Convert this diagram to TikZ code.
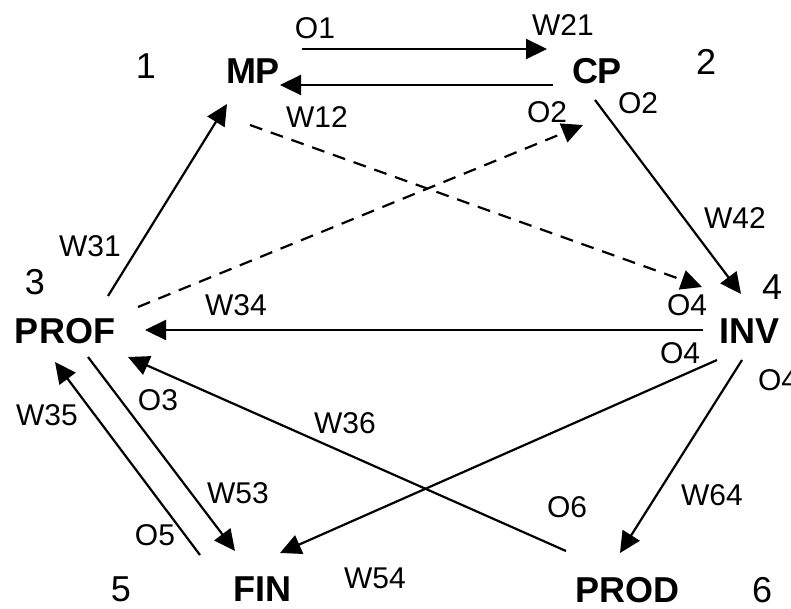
\documentclass[tikz,border=0pt]{standalone}
\usepackage{fontspec}
\setmainfont{Liberation Sans}
\usetikzlibrary{arrows.meta}
\begin{document}
\begin{tikzpicture}[x=1pt,y=-1pt,
  conn/.style={line width=2.2pt,-{Triangle[length=21pt,width=20pt]}},
  plainline/.style={line width=2.2pt},
  dsh/.style={conn,dash pattern=on 13pt off 9pt},
  lbl/.style={font=\fontsize{30}{30}\selectfont,inner sep=0pt},
  box/.style={font=\fontsize{36}{36}\selectfont\bfseries,inner sep=0pt},
  num/.style={font=\fontsize{36}{36}\selectfont,inner sep=0pt}]
\useasboundingbox (0,0) rectangle (791,608);
\clip (0,0) rectangle (791,608);
% main nodes
\node[box] (MP) at (253,71) {MP};
\node[box] (CP) at (597,71) {CP};
\node[box] (PROF) at (65,331) {PROF};
\node[box] (INV) at (749,331) {INV};
\node[box] (FIN) at (262,589) {FIN};
\node[box] (PROD) at (627,590) {PROD};
% numbers
\node[num] (n1) at (146,66) {1};
\node[num] (n2) at (706,62) {2};
\node[num] (n3) at (35,282) {3};
\node[num] (n4) at (772,287) {4};
\node[num] (n5) at (121,589) {5};
\node[num] (n6) at (762,590) {6};
% connector end points
\coordinate (a1) at (302,49);  \coordinate (a2) at (547,49);
\coordinate (b1) at (553,85);  \coordinate (b2) at (280,85);
\coordinate (c1) at (595,100); \coordinate (c2) at (741,294);
\coordinate (d1) at (250,125); \coordinate (d2) at (702,287);
\coordinate (e1) at (138,307); \coordinate (e2) at (583,125);
\coordinate (f1) at (108,296); \coordinate (f2) at (227,104);
\coordinate (g1) at (703,330); \coordinate (g2) at (145,330);
\coordinate (h1) at (717,360); \coordinate (h2) at (280,553);
\coordinate (i1) at (742,360); \coordinate (i2) at (620,553);
\coordinate (j1) at (566,551); \coordinate (j2) at (128,357);
\coordinate (k1) at (88,357);  \coordinate (k2) at (235,551);
\coordinate (l1) at (200,555); \coordinate (l2) at (55,362);
% connectors
\draw[conn] (a1) -- (a2);
\draw[conn] (b1) -- (b2);
\draw[conn] (c1) -- (c2);
\draw[dsh] (d1) -- (d2);
\draw[dsh] (e1) -- (e2);
\draw[conn] (f1) -- (f2);
\draw[conn] (g1) -- (g2);
\draw[conn] (h1) -- (h2);
\draw[conn] (i1) -- (i2);
\draw[conn] (j1) -- (j2);
\draw[conn] (k1) -- (k2);
\draw[conn] (l1) -- (l2);
% labels
\node[lbl] (tO1) at (315,28) {O1};
\node[lbl] (tW21) at (563,25) {W21};
\node[lbl] (tW12) at (317,117) {W12};
\node[lbl] (tO2a) at (547,112) {O2};
\node[lbl] (tO2b) at (638,103) {O2};
\node[lbl] (tW42) at (735,218) {W42};
\node[lbl] (tW31) at (90,246) {W31};
\node[lbl] (tW34) at (236,305) {W34};
\node[lbl] (tO4a) at (687,305) {O4};
\node[lbl] (tO4b) at (680,353) {O4};
\node[lbl] (tO4c) at (778,380) {O4};
\node[lbl] (tO3) at (158,400) {O3};
\node[lbl] (tW35) at (47,415) {W35};
\node[lbl] (tW36) at (345,423) {W36};
\node[lbl] (tW53) at (238,493) {W53};
\node[lbl] (tO5) at (155,535) {O5};
\node[lbl] (tO6) at (567,507) {O6};
\node[lbl] (tW64) at (712,495) {W64};
\node[lbl] (tW54) at (375,578) {W54};
\end{tikzpicture}
\end{document}
